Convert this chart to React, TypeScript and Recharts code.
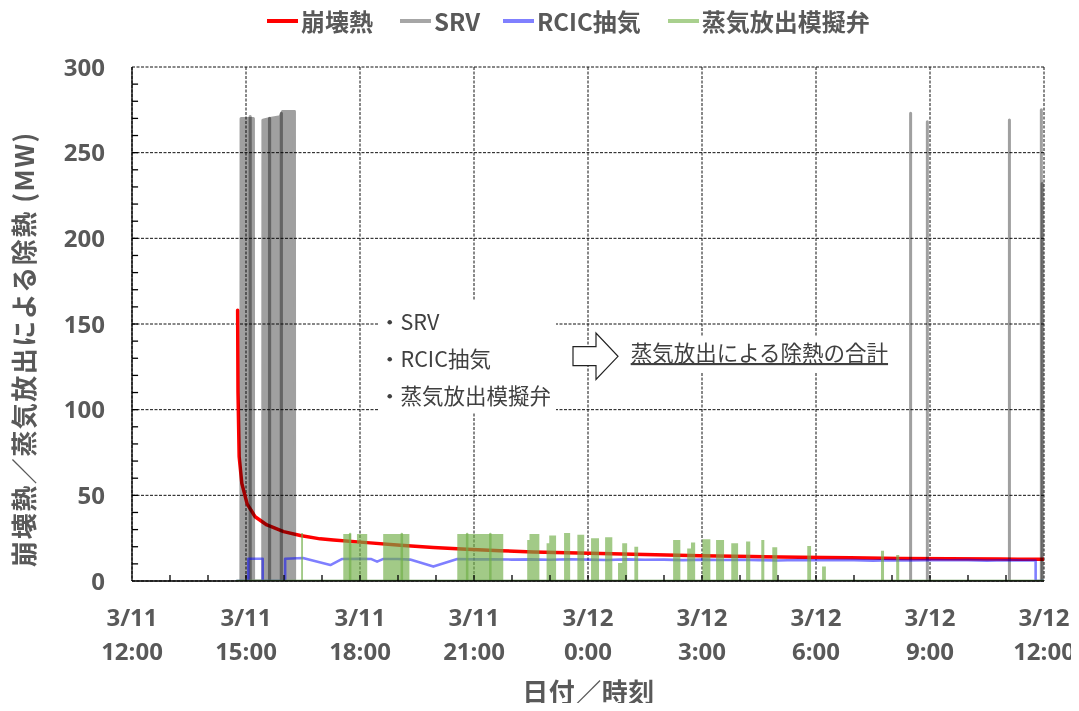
import React from 'react';
import { ComposedChart, Area, XAxis, YAxis, CartesianGrid, ReferenceLine } from 'recharts';

// ---------- axes / labels ----------
// time axis: hours elapsed since 3/11 12:00
const xTicks = [0, 3, 6, 9, 12, 15, 18, 21, 24];
const xTickDate = ['3/11', '3/11', '3/11', '3/11', '3/12', '3/12', '3/12', '3/12', '3/12'];
const xTickTime = ['12:00', '15:00', '18:00', '21:00', '0:00', '3:00', '6:00', '9:00', '12:00'];
const xMinorTicks = [1, 2, 3, 4, 5, 6, 7, 8, 9, 10, 11, 12, 13, 14, 15, 16, 17, 18, 19, 20, 21, 22, 23];
const yTicks = [0, 50, 100, 150, 200, 250, 300];
const yMinorTicks = [10, 20, 30, 40, 50, 60, 70, 80, 90, 100, 110, 120, 130, 140, 150, 160, 170, 180, 190, 200, 210, 220, 230, 240, 250, 260, 270, 280, 290];

const legendNames = ['崩壊熱', 'SRV', 'RCIC抽気', '蒸気放出模擬弁'];
const legendColors = ['#ff0000', '#a6a6a6', '#8080ff', '#a9d08e'];
const xTitle = '日付／時刻';
const yTitle = '崩壊熱／蒸気放出による除熱 (MW)';
const noteItems = ['・SRV', '・RCIC抽気', '・蒸気放出模擬弁'];
const noteResult = '蒸気放出による除熱の合計';

// ---------- series ----------
// decay heat (MW)
const decayT = [2.78, 2.79, 2.82, 2.89, 3.03, 3.24, 3.55, 3.99, 4.43, 4.95, 5.3, 6.18, 7.06, 7.93, 8.81, 9.69, 10.56, 11.44, 12.32, 13.2, 14.07, 14.95, 16.3, 17.58, 18.9, 20.21, 21.5, 22.84, 24];
const decayV = [158, 110, 72.6, 57, 45, 37.5, 32.7, 28.8, 26.6, 24.6, 23.9, 22.4, 20.8, 19.6, 18.5, 17.7, 16.9, 16.5, 16.1, 15.6, 15.2, 14.8, 14.3, 13.8, 13.5, 13.2, 13.0, 12.8, 12.7];

// SRV: rapid cycling periods (envelope)
const srvBlockT = [2.865, 2.87, 3.195, 3.2, 3.44, 3.445, 3.63, 3.9, 3.96, 4.275, 4.28];
const srvBlockV = [0, 270, 270, 0, 0, 269, 270, 271, 274, 274, 0];
// SRV: overlapping openings inside cycling periods
const srvOverlapT = [3.11, 3.62, 3.93, 23.955];
const srvOverlapTop = [271, 270, 273, 232];
// SRV: single openings
const srvSpikeT = [20.49, 20.93, 23.09, 23.93];
const srvSpikeTop = [273, 268, 269, 275];

// RCIC steam extraction (MW)
const rcicT = [2.76, 3.06, 3.06, 3.44, 3.44, 4.03, 4.03, 4.5, 4.6, 5.22, 5.52, 6.0, 6.3, 6.45, 6.6, 7.0, 7.32, 7.93, 8.56, 9.0, 9.5, 10.0, 10.5, 11.0, 11.5, 12.0, 12.5, 13.0, 13.5, 14.0, 14.5, 15.0, 15.5, 16.0, 16.5, 17.0, 17.5, 18.0, 18.5, 19.0, 19.5, 20.0, 20.5, 21.0, 21.5, 22.0, 22.5, 23.0, 23.5, 23.78, 23.78, 24];
const rcicV = [0, 0, 13, 13, 0, 0, 13, 13.4, 12.8, 9.3, 12.8, 13, 12.8, 11.3, 12.8, 12.8, 12.5, 8.4, 12.8, 12.6, 12.7, 12.5, 12.6, 12.4, 12.7, 12.5, 12.3, 12.6, 12.4, 12.5, 12.2, 12.5, 12.3, 12.4, 12.2, 12.0, 12.3, 12.1, 12.3, 12.2, 11.9, 12.2, 12.0, 12.2, 12.1, 12.2, 11.9, 12.1, 12.0, 12.0, 0, 0];

// steam release simulation valve: open periods
const valveStart = [4.45, 5.56, 5.76, 5.92, 6.61, 8.56, 10.40, 10.46, 10.91, 10.98, 11.37, 11.72, 12.08, 12.45, 12.79, 12.90, 13.22, 14.24, 14.61, 14.71, 15.01, 15.37, 15.77, 16.16, 16.56, 16.85, 17.77, 18.16, 19.71, 20.11];
const valveEnd = [4.50, 5.76, 5.92, 6.19, 7.30, 9.77, 10.46, 10.72, 10.98, 11.16, 11.53, 11.90, 12.29, 12.64, 12.90, 13.03, 13.32, 14.43, 14.71, 14.82, 15.22, 15.58, 15.95, 16.27, 16.64, 16.98, 17.87, 18.26, 19.79, 20.19];
const valveTop = [28, 27.5, 22, 27.5, 27.5, 27.5, 24, 27.4, 22, 26.5, 28, 27, 25, 25.6, 10.5, 22, 20, 24, 19, 22.4, 24.3, 24, 22, 23, 24, 19.7, 20.4, 8.4, 17.7, 15.2];
const valveOverlapT = [5.74, 7.1, 8.82, 9.43];
const valveOverlapTop = [27.5, 27.5, 27.5, 27.5];
const valveBaseT = [2.76, 24];
const valveBaseV = [0, 0];

// ---------- builders ----------
type P = { t: number; v: number | null };
const toPoints = (ts: number[], vs: number[]): P[] => ts.map((t, i) => ({ t, v: vs[i] }));
const toSpikes = (ts: number[], tops: number[]): P[] =>
  ts.flatMap((t, i) => [
    { t, v: 0 },
    { t, v: tops[i] },
    { t, v: 0 },
    { t, v: null },
  ]);
const toBlocks = (s: number[], e: number[], tops: number[]): P[] =>
  s.flatMap((st, i) => [
    { t: st, v: 0 },
    { t: st, v: tops[i] },
    { t: e[i], v: tops[i] },
    { t: e[i], v: 0 },
  ]);

const decayData = toPoints(decayT, decayV);
const srvBlockData = toPoints(srvBlockT, srvBlockV);
const srvOverlapData = toSpikes(srvOverlapT, srvOverlapTop);
const srvSpikeData = toSpikes(srvSpikeT, srvSpikeTop);
const rcicData = toPoints(rcicT, rcicV);
const valveData = toBlocks(valveStart, valveEnd, valveTop);
const valveOverlapData = toSpikes(valveOverlapT, valveOverlapTop);
const valveBaseData = toPoints(valveBaseT, valveBaseV);

const W = 1071;
const H = 695;
const TICK_FONT = "'Open Sans', 'Noto Sans CJK JP', sans-serif";
const JP_FONT = "'Noto Sans CJK JP', sans-serif";
const LABEL_COLOR = '#595959';
// inward minor tick length (~6 px), in axis units
const X_MINOR_LEN = 3.5; // MW
const Y_MINOR_LEN = 0.16; // hours

const XTick = (props: any) => {
  const { x, y, payload } = props;
  const i = xTicks.indexOf(payload.value);
  if (i < 0) return <g />;
  return (
    <g>
      <text x={x} y={y + 45} textAnchor="middle" fill={LABEL_COLOR} fontSize={24} fontWeight={700} fontFamily={TICK_FONT}>
        {xTickDate[i]}
      </text>
      <text x={x} y={y + 79} textAnchor="middle" fill={LABEL_COLOR} fontSize={24} fontWeight={700} fontFamily={TICK_FONT}>
        {xTickTime[i]}
      </text>
    </g>
  );
};

const YTick = (props: any) => {
  const { x, y, payload } = props;
  return (
    <text x={x - 27} y={y + 8.8} textAnchor="end" fill={LABEL_COLOR} fontSize={24} fontWeight={700} fontFamily={TICK_FONT}>
      {payload.value}
    </text>
  );
};

const common = {
  isAnimationActive: false,
  dot: false,
  activeDot: false,
  type: 'linear' as const,
  dataKey: 'v',
  strokeLinejoin: 'round' as const,
  strokeLinecap: 'round' as const,
};

export default function App() {
  return (
    <div style={{ position: 'relative', width: W, height: H, background: '#fff' }}>
      <style>{'.mul{mix-blend-mode:multiply}'}</style>
      <ComposedChart width={W} height={H} margin={{ top: 59, right: 35, bottom: 0, left: 0 }}>
        <CartesianGrid stroke="#111" strokeDasharray="3 1.5" strokeWidth={1} />
        <XAxis
          dataKey="t"
          type="number"
          domain={[0, 24]}
          ticks={xTicks}
          interval={0}
          tick={XTick}
          tickLine={false}
          tickSize={0}
          tickMargin={0}
          height={122}
          axisLine={{ stroke: '#000', strokeWidth: 1.3 }}
          allowDataOverflow
        />
        <YAxis
          type="number"
          domain={[0, 300]}
          ticks={yTicks}
          interval={0}
          tick={YTick}
          tickLine={false}
          tickSize={0}
          tickMargin={0}
          width={124}
          axisLine={{ stroke: '#000', strokeWidth: 1.3 }}
          allowDataOverflow
        />

        {xMinorTicks.map((t) => (
          <ReferenceLine
            key={'xm' + t}
            segment={[
              { x: t, y: 0 },
              { x: t, y: X_MINOR_LEN },
            ]}
            stroke="#000"
            strokeWidth={1.3}
          />
        ))}
        {yMinorTicks.map((v) => (
          <ReferenceLine
            key={'ym' + v}
            segment={[
              { x: 0, y: v },
              { x: Y_MINOR_LEN, y: v },
            ]}
            stroke="#000"
            strokeWidth={1.3}
          />
        ))}

        <Area {...common} data={decayData} name="崩壊熱" stroke="#ff0000" strokeWidth={3.5} fill="none" />
        <Area {...common} data={srvBlockData} name="SRV" className="mul" stroke="#a0a0a0" strokeWidth={3} fill="#a0a0a0" fillOpacity={1} />
        <Area {...common} data={srvOverlapData} name="SRV-overlap" className="mul" stroke="#a0a0a0" strokeWidth={3.2} fill="none" />
        <Area {...common} data={srvSpikeData} name="SRV-single" className="mul" stroke="#a0a0a0" strokeWidth={3} fill="none" />
        <Area {...common} data={rcicData} name="RCIC抽気" stroke="#0000ff" strokeOpacity={0.5} strokeWidth={2.6} fill="none" />
        <Area {...common} data={valveData} name="蒸気放出模擬弁" stroke="none" fill="#70ad47" fillOpacity={0.65} />
        <Area {...common} data={valveOverlapData} name="蒸気放出模擬弁-overlap" stroke="#70ad47" strokeOpacity={0.65} strokeWidth={2.5} fill="none" />
        <Area {...common} data={valveBaseData} name="蒸気放出模擬弁-base" stroke="#5e9448" strokeWidth={2.5} fill="none" />
      </ComposedChart>

      {/* legend */}
      <div
        style={{
          position: 'absolute',
          left: 259,
          top: 0,
          height: 26,
          display: 'flex',
          alignItems: 'center',
          fontFamily: JP_FONT,
          fontWeight: 700,
          fontSize: 24,
          color: LABEL_COLOR,
          whiteSpace: 'nowrap',
        }}
      >
        {legendNames.map((n, i) => (
          <div key={n} style={{ display: 'flex', alignItems: 'center', marginRight: i === 1 ? 23 : 27 }}>
            <div style={{ width: 31, height: 4, background: legendColors[i], marginRight: 3 }} />
            <span style={{ lineHeight: '26px' }}>{n}</span>
          </div>
        ))}
      </div>

      {/* titles and annotation, in page coordinates */}
      <svg width={1079} height={711} style={{ position: 'absolute', left: -8, top: -8, pointerEvents: 'none' }}>
        <text
          x={22}
          y={349}
          transform="rotate(-90 22 349)"
          textAnchor="middle"
          dominantBaseline="central"
          fill={LABEL_COLOR}
          fontSize={26}
          fontWeight={700}
          fontFamily={JP_FONT}
          letterSpacing={1.5}
        >
          {yTitle}
        </text>
        <text
          x={588.5}
          y={690}
          textAnchor="middle"
          dominantBaseline="central"
          fill={LABEL_COLOR}
          fontSize={26}
          fontWeight={700}
          fontFamily={JP_FONT}
          letterSpacing={0.5}
        >
          {xTitle}
        </text>

        <rect x={378} y={301} width={178} height={112} fill="#fff" />
        {noteItems.map((s, i) => (
          <text key={s} x={379} y={329.5 + i * 37} fill="#404040" fontSize={21.5} fontFamily={JP_FONT}>
            {s}
          </text>
        ))}
        <polygon
          points="573,346.7 596,346.7 596,333 618,356.3 596,379.5 596,365.7 573,365.7"
          fill="#fff"
          stroke="#222"
          strokeWidth={1.2}
        />
        <rect x={620} y={336} width={275} height={37} fill="#fff" />
        <text x={630.7} y={361} fill="#404040" fontSize={21.5} fontFamily={JP_FONT} style={{ textDecoration: 'underline' }}>
          {noteResult}
        </text>
      </svg>
    </div>
  );
}
